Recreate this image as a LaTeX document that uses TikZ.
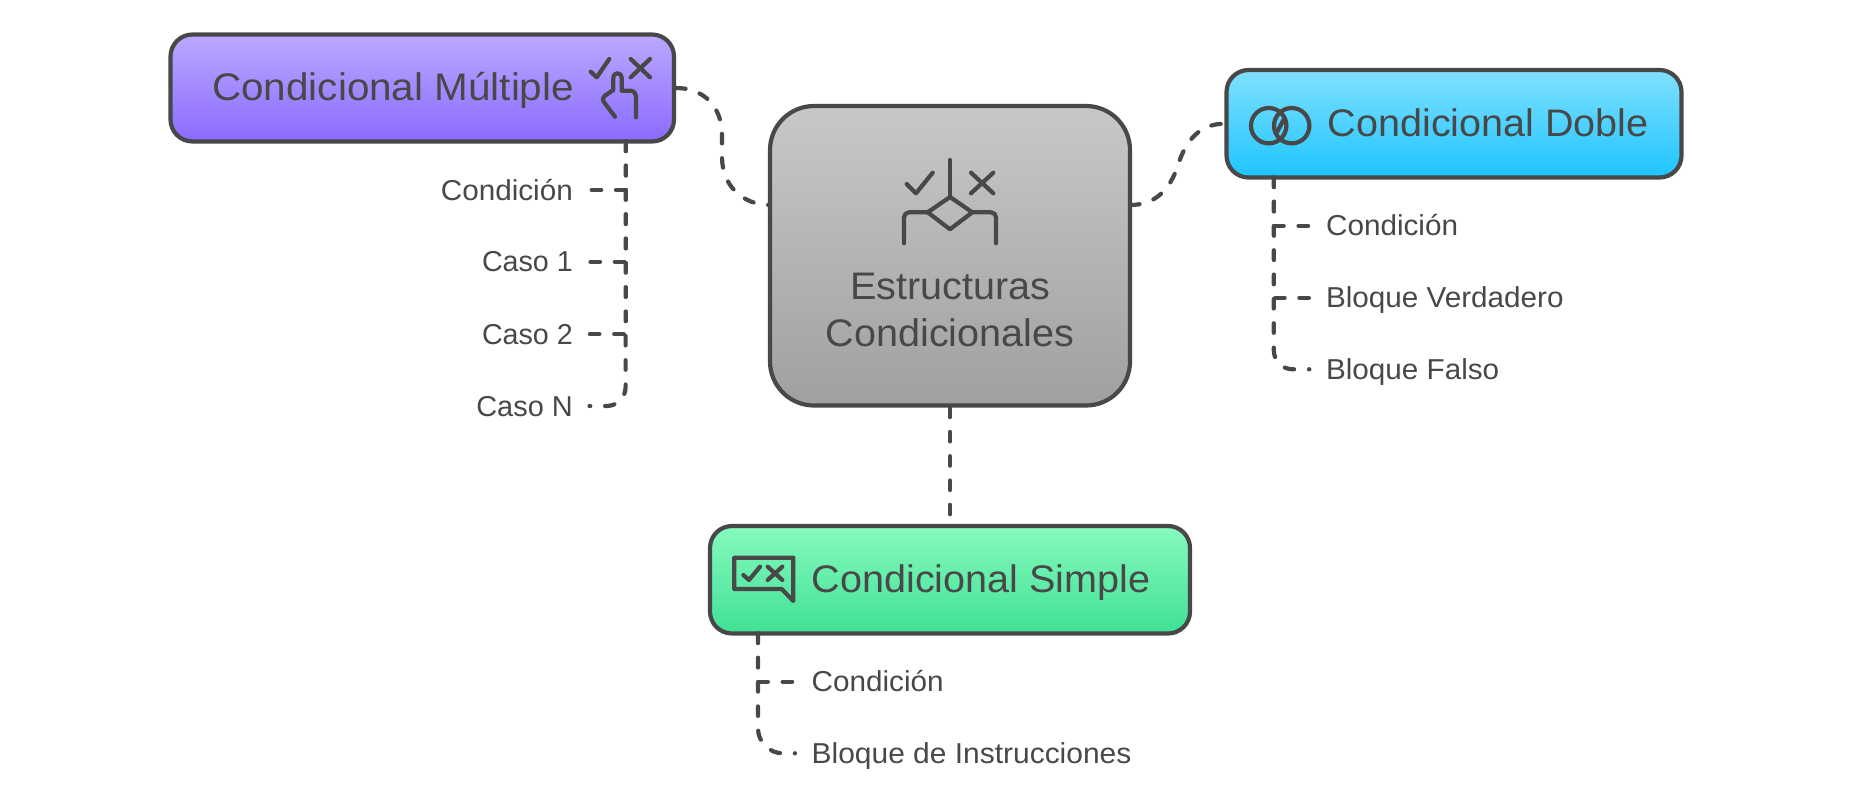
\documentclass[tikz,border=0pt]{standalone}
\usepackage{fontspec}
\setmainfont[FakeStretch=1.03]{Liberation Sans}
\definecolor{ink}{HTML}{484848}
\tikzset{
  x=1pt,y=-1pt,
  box/.style={draw=ink,line width=4.2pt,rounded corners=22pt,inner sep=0pt,shading angle=0},
  title/.style={text=ink,inner sep=0pt,font=\fontsize{38.4}{47}\selectfont},
  leaf/.style={text=ink,inner xsep=16.5pt,inner ysep=0pt,text height=26pt,text depth=6pt,font=\fontsize{28.8}{34}\selectfont},
  link/.style={draw=ink,line width=4.2pt,line cap=round,dash pattern=on 9.5pt off 14.8pt},
  icon/.style={draw=ink,line width=4.2pt,line cap=round,line join=round},
}
\begin{document}
\begin{tikzpicture}
\useasboundingbox (0,0) rectangle (1851,806);
\coordinate (mstem) at (625.6,141.5);
\coordinate (dstem) at (1273.8,177.5);
\coordinate (sstem) at (758,633.5);
\coordinate (cleft) at (770,205);
\coordinate (cright) at (1130,205);
% boxes
\node[box,minimum width=503.5pt,minimum height=107pt,top color={rgb,255:red,188;green,168;blue,255},bottom color={rgb,255:red,138;green,106;blue,255}] (m) at (422.25,88) {};
\node[box,rounded corners=44pt,minimum width=360pt,minimum height=299.5pt,top color={rgb,255:red,200;green,200;blue,200},bottom color={rgb,255:red,160;green,160;blue,160}] (c) at (950,255.75) {};
\node[box,minimum width=455pt,minimum height=107.5pt,top color={rgb,255:red,128;green,224;blue,255},bottom color={rgb,255:red,30;green,196;blue,255}] (d) at (1454,123.75) {};
\node[box,minimum width=480pt,minimum height=107.5pt,top color={rgb,255:red,134;green,250;blue,190},bottom color={rgb,255:red,64;green,224;blue,149}] (s) at (950,579.75) {};
% box titles
\node[title,anchor=base west] (mt) at (212,100) {\addfontfeature{FakeStretch=1.053}Condicional Múltiple};
\node[title,anchor=base west] (dt) at (1327.5,136.7) {Condicional Doble};
\node[title,anchor=base west] (st) at (811.5,592.3) {Condicional Simple};
\node[title,anchor=base] (ct1) at (950,299) {Estructuras};
\node[title,anchor=base] (ct2) at (950,346) {Condicionales};
% leaves
\node[leaf,anchor=base east] (m1) at (589.5,200) {Condición};
\node[leaf,anchor=base east] (m2) at (589.5,271.7) {\addfontfeature{FakeStretch=0.995}Caso 1};
\node[leaf,anchor=base east] (m3) at (589.5,344) {\addfontfeature{FakeStretch=0.995}Caso 2};
\node[leaf,anchor=base east] (m4) at (589.5,416) {\addfontfeature{FakeStretch=1.005}Caso N};
\node[leaf,anchor=base west] (d1) at (1309.4,235.7) {Condición};
\node[leaf,anchor=base west] (d2) at (1309.4,307.7) {Bloque Verdadero};
\node[leaf,anchor=base west] (d3) at (1309.4,379.3) {Bloque Falso};
\node[leaf,anchor=base west] (s1) at (795,691.7) {Condición};
\node[leaf,anchor=base west] (s2) at (795,763.3) {\addfontfeature{FakeStretch=1.04}Bloque de Instrucciones};
% connectors
\draw[link] (m.east) .. controls +(28,0) and (722,107) .. (722,135) -- (722,157) .. controls (722,185) and (742,205) .. (cleft);
\draw[link] (cright) .. controls +(25,0) and (1170,190) .. (1178,165) .. controls (1186,140) and (1200,123.75) .. (d.west);
\draw[link] (c.south) -- (s.north);
\draw[link] (mstem) |- (m1.east);
\draw[link] (mstem) |- (m2.east);
\draw[link] (mstem) |- (m3.east);
\draw[link,rounded corners=19pt] (mstem) |- (m4.east);
\draw[link] (dstem) |- (d1.west);
\draw[link] (dstem) |- (d2.west);
\draw[link,rounded corners=19pt] (dstem) |- (d3.west);
\draw[link] (sstem) |- (s1.west);
\draw[link,rounded corners=25pt] (sstem) |- (s2.west);
% central icon
\draw[icon] (950,160) -- (950,197);
\draw[icon] (950,197) -- (972.3,212.3) -- (950,229.3) -- (927.7,212.3) -- cycle;
\draw[icon,rounded corners=5pt] (927.7,212.3) -- (904,212.3) -- (904,243.3);
\draw[icon,rounded corners=5pt] (972.3,212.3) -- (996,212.3) -- (996,243.3);
\draw[icon] (906.7,184) -- (916,193.3) -- (932.7,172.7);
\draw[icon] (971,172.7) -- (993.3,193.3) (993.3,172.7) -- (971,193.3);
% multiple icon
\draw[icon] (590.7,71.7) -- (596.7,77.3) -- (609.3,59);
\draw[icon] (630.7,59) -- (650,77.3) (650,59) -- (630.7,77.3);
\draw[icon] (636,117.3) -- (636,98.3) .. controls (636,93) and (634,90.7) .. (630,90.7) -- (621.7,90.7) -- (621.7,78.3) .. controls (621.7,71.5) and (613.3,71.5) .. (613.3,78.3) -- (613.3,90) -- (604.5,96) .. controls (602.5,97.5) and (602.5,100) .. (603.5,101.5) -- (615,116.7);
% simple icon
\draw[icon] (734.3,589) -- (734.3,557.7) -- (793.3,557.7) -- (793.3,601) -- (781.7,589) -- cycle;
\draw[icon] (743.3,575) -- (749,580) -- (760,566.7);
\draw[icon] (767.7,566.7) -- (782.3,580) (782.3,566.7) -- (767.7,580);
% double icon
\draw[icon] (1268.7,125.7) circle[radius=17.7];
\draw[icon] (1291.7,125.7) circle[radius=17.7];
\draw[icon] (1276.5,133) -- (1284,119);
\end{tikzpicture}
\end{document}
